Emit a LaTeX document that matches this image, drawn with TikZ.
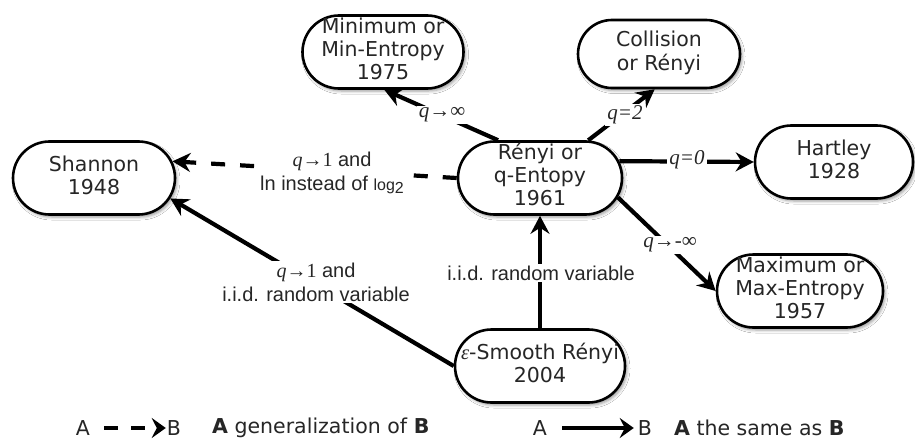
\documentclass[tikz,border=0pt]{standalone}
\usepackage{fontspec}
\setmainfont{DejaVu Sans}
\newfontfamily\labfont{Liberation Sans}
\newfontfamily\serf{Liberation Serif}
\usetikzlibrary{arrows.meta,shapes.misc,shadows.blur}

% multi-line node text that does not widen the shape
\newcommand{\stack}[1]{\makebox[0pt]{\begin{tabular}{@{}c@{}}#1\end{tabular}}}
\newcommand{\qi}{{\serf\itshape q}}

\tikzset{
  entity/.style={rounded rectangle, draw=black, line width=2.6pt, fill=white,
    inner sep=0pt, minimum height=73pt, text=black!85,
    font=\fontsize{20.5}{23}\selectfont,
    blur shadow={shadow xshift=2pt, shadow yshift=-2.5pt,
      shadow blur radius=3pt, shadow opacity=40}},
  link/.style={line width=4.2pt, -{Stealth[length=18pt,width=19pt,inset=6pt]}},
  genlink/.style={link, dash pattern=on 14pt off 15pt},
  lab/.style={fill=white, inner sep=2pt, align=center, text=black!85,
    font=\labfont\fontsize{20}{24}\selectfont},
  qlab/.style={fill=white, inner sep=2pt, text=black!85,
    font=\serf\fontsize{21}{24}\selectfont},
  leg/.style={inner sep=0pt, text=black!85, font=\fontsize{20.5}{24}\selectfont},
  leglink/.style={line width=4pt, -{Stealth[length=14pt,width=20pt,inset=5pt]}},
  leggen/.style={leglink, dash pattern=on 14pt off 13pt}
}

\begin{document}
\begin{tikzpicture}[x=1pt, y=-1pt]
\useasboundingbox[fill=white] (0,0) rectangle (915,441);

% entropy nodes
\node[entity, minimum width=161pt] (minimum) at (383,52) {\stack{Minimum or\\Min-Entropy\\1975}};
\node[entity, minimum width=162pt, minimum height=68pt] (collision) at (659,54) {\stack{Collision\\or Rényi}};
\node[entity, minimum width=162pt] (shannon) at (94,178) {\stack{Shannon\\1948}};
\node[entity, minimum width=164pt] (renyi) at (540,178) {\stack{Rényi or\\q-Entopy\\1961}};
\node[entity, minimum width=158pt] (hartley) at (834,162) {\stack{Hartley\\1928}};
\node[entity, minimum width=166pt] (maximum) at (800,291) {\stack{Maximum or\\Max-Entropy\\1957}};
\node[entity, minimum width=170pt] (smooth) at (540,366) {\stack{{\serf\itshape ε}-Smooth Rényi\\2004}};

% relations
\draw[link] (renyi.138) -- (minimum.272);
\draw[link] (renyi.38) -- (collision.263);
\draw[link] (renyi.12) -- (hartley.west);
\draw[link] (renyi.346) -- (maximum.west);
\draw[genlink] (renyi.west) -- (shannon.12);
\draw[link] (smooth.west) -- (shannon.345);
\draw[link] (smooth.north) -- (renyi.south);

% relation labels
\node[qlab] (lmin) at (442,115) {\qi→∞};
\node[qlab] (lcol) at (625,115) {\textit{q=2}};
\node[qlab] (lhart) at (687,160) {\textit{q=0}};
\node[qlab] (lmax) at (670,245) {\qi→-∞};
\node[lab] (lshan) at (332,173) {\qi{\serf →1} and\\ln instead of {\fontsize{16}{16}\selectfont log\raisebox{-3.5pt}{2}}};
\node[lab] (lsmooth) at (316,282) {\qi{\serf →1} and\\i.i.d. random variable};
\node[lab] (liid) at (541,273) {i.i.d. random variable};

% legend
\node[leg] (ga) at (83,428) {A};
\node[leg] (gb) at (174,428) {B};
\draw[leggen] ([xshift=14pt]ga.east) -- ([xshift=-1pt]gb.west);
\node[leg, anchor=west] (gtext) at (212,428) {\textbf{A} generalization of \textbf{B}};
\node[leg] (sa) at (540,428) {A};
\node[leg] (sb) at (645,428) {B};
\draw[leglink] ([xshift=15pt]sa.east) -- ([xshift=-4pt]sb.west);
\node[leg, anchor=west] (stext) at (674,428) {\textbf{A} the same as \textbf{B}};
\end{tikzpicture}
\end{document}
